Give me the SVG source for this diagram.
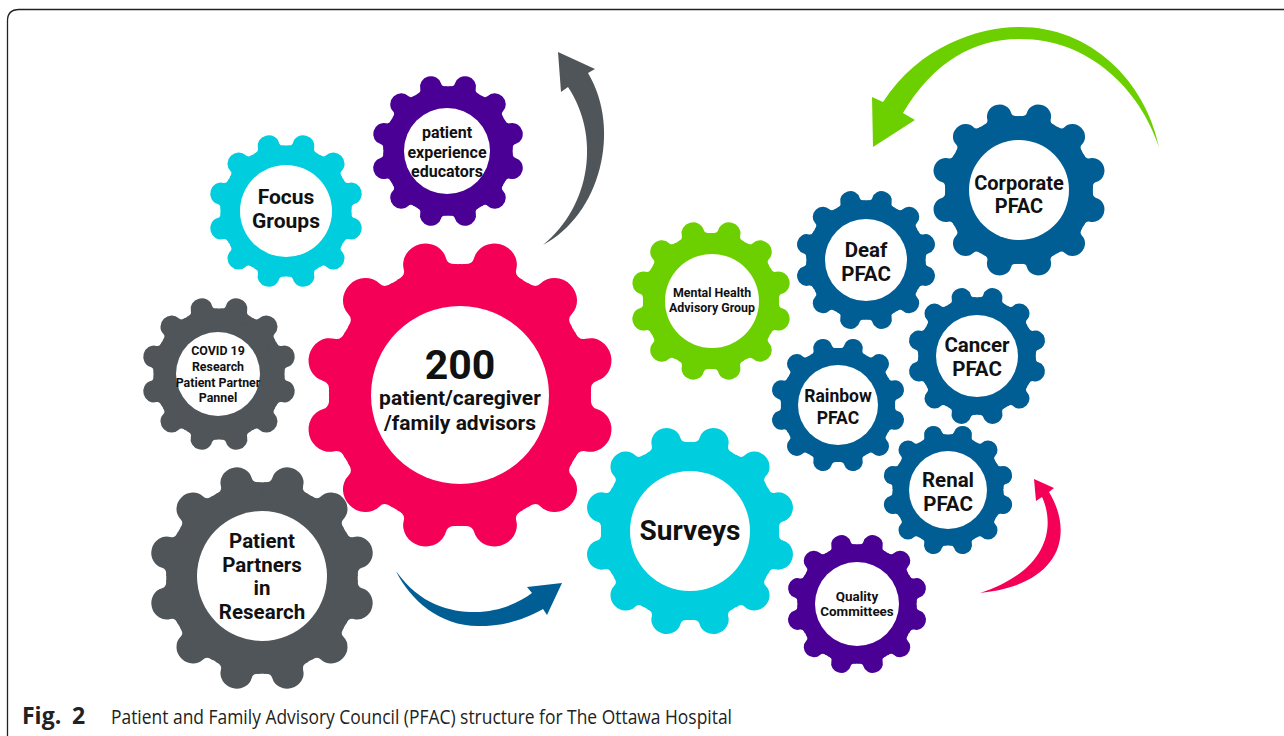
<svg xmlns="http://www.w3.org/2000/svg" xmlns:xlink="http://www.w3.org/1999/xlink" width="1284" height="736" viewBox="0 0 1284 736">
<style>
.lbl{font-family:Roboto,"Liberation Sans",sans-serif;font-weight:700;fill:#111;text-anchor:middle}
.hole{fill:#fff}
.pink{fill:#F50057}.cyan{fill:#00CDDD}.purple{fill:#4B0095}.gray{fill:#4F5558}.blue{fill:#015E94}.green{fill:#6CD000}
</style>
<defs>
<path id="tooth" d="M -20 -70 L -20 -81.6 Q -14 -82.5 -14 -87 A 14 13 0 0 1 14 -87 Q 14 -82.5 20 -81.6 L 20 -70 Z"/>
<g id="gear">
<circle r="84"/>
<use href="#tooth" transform="rotate(15)"/><use href="#tooth" transform="rotate(45)"/><use href="#tooth" transform="rotate(75)"/>
<use href="#tooth" transform="rotate(105)"/><use href="#tooth" transform="rotate(135)"/><use href="#tooth" transform="rotate(165)"/>
<use href="#tooth" transform="rotate(195)"/><use href="#tooth" transform="rotate(225)"/><use href="#tooth" transform="rotate(255)"/>
<use href="#tooth" transform="rotate(285)"/><use href="#tooth" transform="rotate(315)"/><use href="#tooth" transform="rotate(345)"/>
</g>
</defs>
<rect width="1284" height="736" fill="#fff"/>
<path d="M 7.5 736 L 7.5 21 Q 7.5 9.5 19 9.5 L 1284 9.5" fill="none" stroke="#222" stroke-width="1.3"/>

<g id="connectors">
<path class="gray" d="M 543 245 C 600 215 622 130 588 73 L 595 69 L 558 52 L 561 92 L 568 87 C 600 135 592 205 543 245 Z"/>
<path class="green" d="M 872 97 L 883 102 C 920 45 980 27 1020 27 C 1090 27 1145 80 1159 147 C 1140 90 1090 39 1020 39 C 975 39 935 60 903 113 L 915 120 L 873 147 Z"/>
<path class="blue" d="M 396 571 C 420 605 450 612 475 612 C 500 612 520 602 532 593 L 527 587 L 562 583 L 547 615 L 543 609 C 520 622 500 626 478 626 C 440 626 410 600 396 571 Z"/>
<path class="pink" d="M 1036 501 L 1042 497 C 1055 525 1050 570 980 593 C 1060 585 1075 535 1049 492 L 1054 488 L 1034 479 Z"/>
</g>

<g id="focus-groups">
<use href="#gear" class="cyan" transform="translate(286 211) scale(0.78)"/>
<circle class="hole" cx="286" cy="211" r="46"/>
<text class="lbl" x="286" y="204" font-size="21">Focus</text>
<text class="lbl" x="286" y="228" font-size="21">Groups</text>
</g>

<g id="educators">
<use href="#gear" class="purple" transform="translate(448 151) scale(0.77)"/>
<circle class="hole" cx="447" cy="151" r="43"/>
<text class="lbl" x="447" y="138" font-size="16">patient</text>
<text class="lbl" x="447" y="158" font-size="16">experience</text>
<text class="lbl" x="447" y="177" font-size="16">educators</text>
</g>

<g id="advisors">
<use href="#gear" class="pink" transform="translate(460 395) scale(1.56)"/>
<circle class="hole" cx="460" cy="395" r="89"/>
<text class="lbl" x="460" y="379" font-size="41">200</text>
<text class="lbl" x="460" y="405" font-size="21">patient/caregiver</text>
<text class="lbl" x="460" y="430" font-size="21">/family advisors</text>
</g>

<g id="covid">
<use href="#gear" class="gray" transform="translate(219 374) scale(0.78)"/>
<circle class="hole" cx="218" cy="374" r="42"/>
<text class="lbl" x="218" y="355" font-size="12.4">COVID 19</text>
<text class="lbl" x="218" y="371" font-size="12.4">Research</text>
<text class="lbl" x="218" y="387" font-size="12.4">Patient Partner</text>
<text class="lbl" x="218" y="402" font-size="12.4">Pannel</text>
</g>

<g id="partners">
<use href="#gear" class="gray" transform="translate(262 578) scale(1.14)"/>
<circle class="hole" cx="262" cy="576" r="65"/>
<text class="lbl" x="262" y="548" font-size="20.5">Patient</text>
<text class="lbl" x="262" y="571.5" font-size="20.5">Partners</text>
<text class="lbl" x="262" y="595" font-size="20.5">in</text>
<text class="lbl" x="262" y="618.5" font-size="20.5">Research</text>
</g>

<g id="surveys">
<use href="#gear" class="cyan" transform="translate(690 531) scale(1.06)"/>
<circle class="hole" cx="690" cy="531" r="60"/>
<text class="lbl" x="690" y="540" font-size="28">Surveys</text>
</g>

<g id="mental-health">
<use href="#gear" class="green" transform="translate(711 301) scale(0.81)"/>
<circle class="hole" cx="712" cy="301" r="47"/>
<text class="lbl" x="712" y="297" font-size="12.4">Mental Health</text>
<text class="lbl" x="712" y="312" font-size="12.4">Advisory Group</text>
</g>

<g id="deaf">
<use href="#gear" class="blue" transform="translate(866 260) scale(0.71)"/>
<circle class="hole" cx="866" cy="260" r="41"/>
<text class="lbl" x="866" y="257" font-size="20.5">Deaf</text>
<text class="lbl" x="866" y="281" font-size="20.5">PFAC</text>
</g>

<g id="corporate">
<use href="#gear" class="blue" transform="translate(1019 190) scale(0.88)"/>
<circle class="hole" cx="1019" cy="190" r="50"/>
<text class="lbl" x="1019" y="190" font-size="20">Corporate</text>
<text class="lbl" x="1019" y="213" font-size="20">PFAC</text>
</g>

<g id="cancer">
<use href="#gear" class="blue" transform="translate(977 356) scale(0.70)"/>
<circle class="hole" cx="977" cy="356" r="41"/>
<text class="lbl" x="977" y="352" font-size="20.5">Cancer</text>
<text class="lbl" x="977" y="376" font-size="20.5">PFAC</text>
</g>

<g id="rainbow">
<use href="#gear" class="blue" transform="translate(838 405) scale(0.68)"/>
<circle class="hole" cx="838" cy="405" r="40"/>
<text class="lbl" x="838" y="402" font-size="17.5">Rainbow</text>
<text class="lbl" x="838" y="424" font-size="17.5">PFAC</text>
</g>

<g id="renal">
<use href="#gear" class="blue" transform="translate(948 490) scale(0.66)"/>
<circle class="hole" cx="948" cy="490" r="39"/>
<text class="lbl" x="948" y="487" font-size="20.5">Renal</text>
<text class="lbl" x="948" y="511" font-size="20.5">PFAC</text>
</g>

<g id="quality">
<use href="#gear" class="purple" transform="translate(857 604) scale(0.71)"/>
<circle class="hole" cx="857" cy="604" r="42"/>
<text class="lbl" x="857" y="601" font-size="13.4">Quality</text>
<text class="lbl" x="857" y="616" font-size="13.4">Committees</text>
</g>

<g id="caption" font-family="'Open Sans','Noto Sans',sans-serif" fill="#222">
<text x="22" y="724" font-size="23" font-weight="700">Fig. <tspan x="72">2</tspan></text>
<text x="111" y="724" font-size="20" textLength="621" lengthAdjust="spacingAndGlyphs">Patient and Family Advisory Council (PFAC) structure for The Ottawa Hospital</text>
</g>
</svg>
